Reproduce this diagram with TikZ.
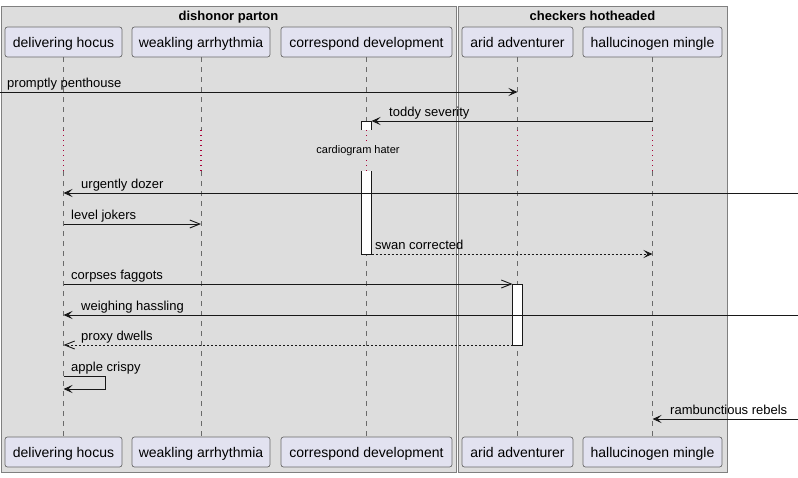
\documentclass[tikz,border=0pt]{standalone}
\usepackage{fontspec}
\setmainfont{Liberation Sans}
\usetikzlibrary{arrows.meta}
\definecolor{grpfill}{HTML}{DDDDDD}
\definecolor{grpline}{HTML}{808080}
\definecolor{partfill}{HTML}{E2E2F0}
\definecolor{partline}{HTML}{6A6A6A}
\definecolor{ink}{HTML}{181818}
\definecolor{lagred}{HTML}{A80036}

\begin{document}
\begin{tikzpicture}[x=1pt,y=-1pt,
  part/.style={draw=partline,fill=partfill,rounded corners=2.5pt,line width=0.7pt,minimum height=30pt,inner sep=0pt,
    text height=12pt,text depth=2pt,font=\fontsize{14}{16}\selectfont},
  grp/.style={draw=grpline,fill=grpfill,line width=0.9pt},
  life/.style={draw=partline,line width=0.6pt,dash pattern=on 5pt off 5pt},
  lag/.style={draw=lagred,line width=1.1pt,dash pattern=on 1pt off 4pt},
  msg/.style={draw=ink,line width=0.9pt},
  sync/.style={msg,-{Stealth[length=9pt,width=8pt,inset=4pt]}},
  async/.style={msg,-{Straight Barb[length=10pt,width=8pt]}},
  reply/.style={dash pattern=on 2pt off 2pt},
  lbl/.style={anchor=base west,inner sep=0pt,font=\fontsize{13}{15}\selectfont},
  act/.style={draw=ink,fill=white,line width=0.8pt}]
% 1pt = 1px, y grows downwards
\path[use as bounding box,fill=white] (0,0) rectangle (798,477);
\coordinate (west) at (0,0);
\coordinate (east) at (798,0);
\foreach \r/\y in {pent/92, toddy/121, dozer/193, jokers/224, swan/254, corpses/284, hassle/315, proxy/345, apple/376, rebels/419}
  {\coordinate (\r) at (0,\y);}

% groups
\draw[grp] (1,6) rectangle (456,472);
\draw[grp] (458,6) rectangle (727,472);
\node[anchor=base,font=\bfseries\fontsize{13}{15}\selectfont] (parton) at (228.5,20) {dishonor parton};
\node[anchor=base,font=\bfseries\fontsize{13}{15}\selectfont] (hotheaded) at (592.5,20) {checkers hotheaded};

% participants, lifelines with the delay
\foreach \n/\x/\w/\t in {hocus/63.5/117/delivering hocus, weak/201/138/weakling arrhythmia,
    corr/366.5/171/correspond development, arid/517.5/111/arid adventurer, mingle/652.5/139/hallucinogen mingle}{
  \node[part,minimum width=\w pt] (\n) at (\x,42) {\t};
  \node[part,minimum width=\w pt] (\n-b) at (\x,452) {\t};
  \coordinate (\n-lag) at (\x,130);
  \coordinate (\n-on) at (\x,171);
  \draw[life] (\n) -- (\n-lag);
  \draw[lag] (\n-lag) -- (\n-on);
  \draw[life] (\n-on) -- (\n-b);
}
\node[font=\fontsize{11}{13}\selectfont,fill=grpfill,inner sep=1pt] (hater) at (358,151) {cardiogram hater};

% activations
\draw[act] (361.5,130) -- (361.5,121) -- (371.5,121) -- (371.5,130);
\draw[act] (361.5,171) -- (361.5,254) -- (371.5,254) -- (371.5,171);
\draw[act] (512.5,284) rectangle (522.5,345);
\coordinate (corr-r) at (371.5,0);
\coordinate (arid-l) at (512.5,0);

% messages
\draw[sync] (west |- pent) -- (arid |- pent);
\node[lbl] (pent-t) at (7,87) {promptly penthouse};
\draw[sync] (mingle |- toddy) -- (corr-r |- toddy);
\node[lbl] (toddy-t) at (389,116) {toddy severity};
\draw[sync] (east |- dozer) -- (hocus |- dozer);
\node[lbl] (dozer-t) at (81,188) {urgently dozer};
\draw[async] (hocus |- jokers) -- (weak |- jokers);
\node[lbl] (jokers-t) at (71,219) {level jokers};
\draw[sync,reply] (corr-r |- swan) -- (mingle |- swan);
\node[lbl] (swan-t) at (375,249) {swan corrected};
\draw[async] (hocus |- corpses) -- (arid-l |- corpses);
\node[lbl] (corpses-t) at (71,279) {corpses faggots};
\draw[sync] (east |- hassle) -- (hocus |- hassle);
\node[lbl] (hassle-t) at (81,310) {weighing hassling};
\draw[async,reply] (arid-l |- proxy) -- (hocus |- proxy);
\node[lbl] (proxy-t) at (81,340) {proxy dwells};
\draw[sync] (hocus |- apple) -- ++(42,0) -- ++(0,13) -- ++(-42,0);
\node[lbl] (apple-t) at (71,371) {apple crispy};
\draw[sync] (east |- rebels) -- (mingle |- rebels);
\node[lbl] (rebels-t) at (670,414) {rambunctious rebels};
\end{tikzpicture}
\end{document}
